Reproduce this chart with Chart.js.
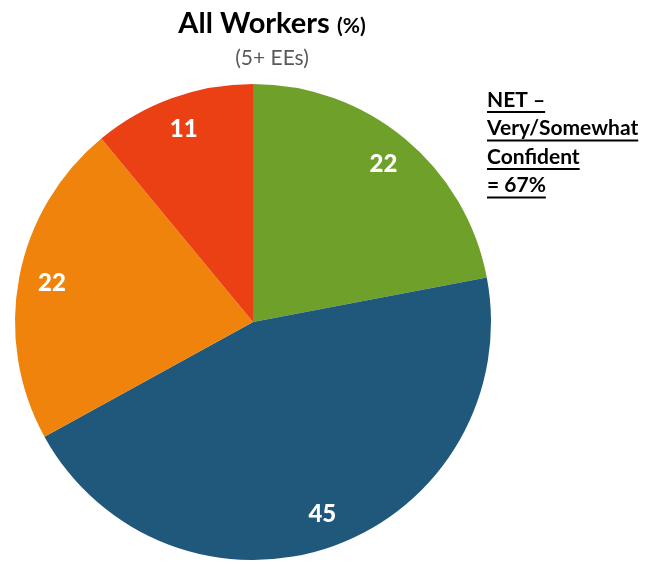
<!DOCTYPE html>
<html>
<head>
<meta charset="utf-8">
<script src="https://cdn.jsdelivr.net/npm/chart.js@4"></script>
<style>
  html, body { margin: 0; padding: 0; background: #fff; }
  #wrap { width: 651px; height: 564px; }
</style>
</head>
<body>
<div id="wrap"><canvas id="myChart" width="651" height="564"></canvas></div>
<script>
var categories = ["Very confident", "Somewhat confident", "Not too confident", "Not at all confident"];
var values = [22, 45, 22, 11];
var sliceColors = ["#6FA12A", "#1F587A", "#EF830C", "#EB3F14"];
var noteLines = ["NET \u2013", "Very/Somewhat", "Confident", "= 67%"];

var fontFam = "Lato, 'Open Sans', sans-serif";

// labels inside slices
var sliceLabels = {
  id: "sliceLabels",
  afterDatasetsDraw: function(chart) {
    var ctx = chart.ctx;
    var meta = chart.getDatasetMeta(0);
    ctx.save();
    ctx.fillStyle = "#fff";
    ctx.font = "900 24px " + fontFam;
    ctx.textAlign = "center";
    ctx.textBaseline = "middle";
    meta.data.forEach(function(arc, i) {
      var mid = (arc.startAngle + arc.endAngle) / 2;
      var r = arc.outerRadius * 0.86;
      ctx.fillText(values[i], arc.x + Math.cos(mid) * r, arc.y + Math.sin(mid) * r);
    });
    ctx.restore();
  }
};

// title, subtitle and the NET note
var extraText = {
  id: "extraText",
  afterDraw: function(chart) {
    var ctx = chart.ctx;
    ctx.save();
    ctx.textBaseline = "middle";
    ctx.fillStyle = "#000";
    var t1 = "All Workers ";
    ctx.font = "bold 29px " + fontFam;
    var w1 = ctx.measureText(t1).width;
    ctx.font = "bold 21px " + fontFam;
    var w2 = ctx.measureText("(%)").width;
    var x0 = 272 - (w1 + w2) / 2;
    ctx.textAlign = "left";
    ctx.font = "bold 29px " + fontFam;
    ctx.fillText(t1, x0, 24);
    ctx.font = "bold 21px " + fontFam;
    ctx.fillText("(%)", x0 + w1, 26);

    ctx.fillStyle = "#595959";
    ctx.font = "21px " + fontFam;
    ctx.textAlign = "center";
    ctx.fillText("(5+ EEs)", 272, 58);

    ctx.fillStyle = "#000";
    ctx.font = "bold 21px " + fontFam;
    ctx.textAlign = "left";
    noteLines.forEach(function(line, i) {
      var y = 100 + i * 28.5;
      ctx.fillText(line, 487, y);
      var w = ctx.measureText(line).width;
      ctx.fillRect(487, y + 11, w, 2);
    });
    ctx.restore();
  }
};

new Chart("myChart", {
  type: "pie",
  data: {
    labels: categories,
    datasets: [{
      data: values,
      backgroundColor: sliceColors,
      borderWidth: 0
    }]
  },
  options: {
    responsive: false,
    animation: false,
    layout: { padding: { left: 15, right: 160, top: 84, bottom: 4 } },
    plugins: {
      legend: { display: false },
      tooltip: { enabled: false }
    }
  },
  plugins: [sliceLabels, extraText]
});
</script>
</body>
</html>
